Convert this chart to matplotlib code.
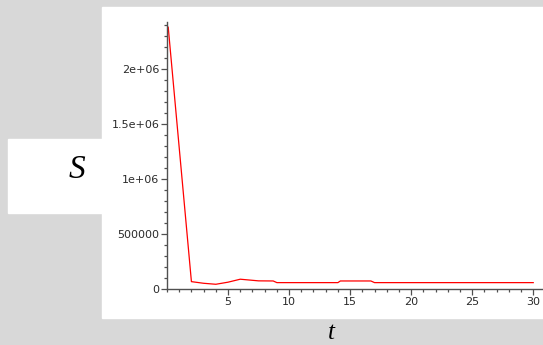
import numpy as np
import matplotlib.pyplot as plt
from matplotlib.patches import Rectangle
from matplotlib.ticker import MultipleLocator, FixedLocator

# values
t = [0.1, 2.0, 3.0, 4.0, 5.0, 6.0, 7.5, 8.7, 9.0, 14.0, 14.2, 16.7, 17.0, 30.0]
S = [2380000, 67000, 52000, 43000, 62000, 89000, 74000, 73000, 58000, 58000, 73000, 73000, 58000, 58000]

y_ticks = [0, 500000, 1000000, 1500000, 2000000]
y_labels = ["0", "500000", "1e+06", "1.5e+06", "2e+06"]
x_ticks = [5, 10, 15, 20, 25, 30]

W, H = 543, 345
fig = plt.figure(figsize=(W / 100, H / 100), dpi=100, facecolor='#d8d8d8')

# white panels: plot area and the box holding the S label
fig.patches.append(Rectangle((102 / W, 1 - 318 / H), 441 / W, 311 / H,
                             transform=fig.transFigure, color='white', zorder=-2))
fig.patches.append(Rectangle((8 / W, 1 - 213 / H), 96 / W, 74 / H,
                             transform=fig.transFigure, color='white', zorder=-2))

ax = fig.add_axes([167 / W, 56 / H, (W - 167) / W, (289 - 21.7) / H])
ax.set_zorder(3)
ax.set_facecolor('none')
ax.plot(t, S, color='#ff0000', lw=0.9, clip_on=False)

ax.set_xlim(0, 30.8)
ax.set_ylim(0, 2430000)

ax.xaxis.set_major_locator(FixedLocator(x_ticks))
ax.xaxis.set_minor_locator(MultipleLocator(1))
ax.set_xticklabels([str(v) for v in x_ticks])
ax.yaxis.set_major_locator(FixedLocator(y_ticks))
ax.yaxis.set_minor_locator(MultipleLocator(100000))
ax.set_yticklabels(y_labels)

for side in ['top', 'right']:
    ax.spines[side].set_visible(False)
for side in ['left', 'bottom']:
    ax.spines[side].set_color('#505050')
    ax.spines[side].set_linewidth(1.0)

ax.tick_params(which='major', length=4, width=0.9, color='#505050',
               labelsize=8, labelcolor='#2a2a2a', pad=1.5,
               labelfontfamily='DejaVu Sans')
ax.tick_params(which='minor', length=2.5, width=0.9, color='#505050')

fig.text(77 / W, 1 - 170 / H, "S", fontsize=24, style='italic',
         family='Liberation Serif', ha='center', va='center')
fig.text(331 / W, 1 - 344 / H, "t", fontsize=18, style='italic',
         family='Liberation Serif', ha='center', va='bottom')

fig.savefig('out.png', dpi=100, facecolor=fig.get_facecolor())
